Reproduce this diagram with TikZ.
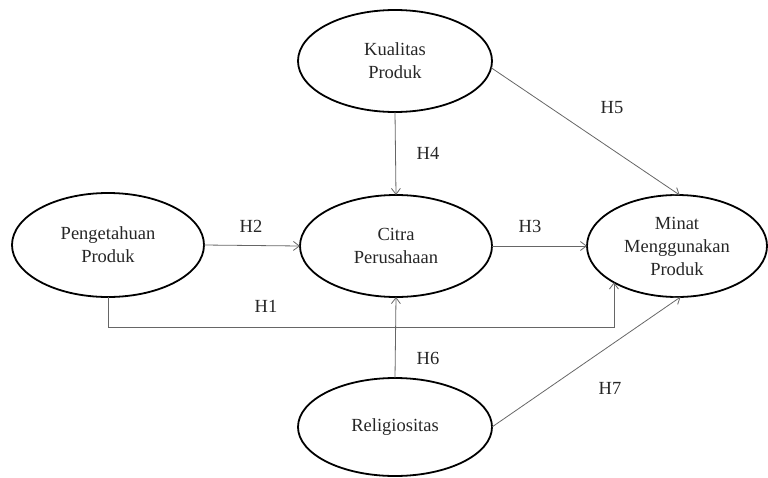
\documentclass[tikz,border=0pt]{standalone}
\usepackage{fontspec}
\setmainfont{Liberation Serif}
\usetikzlibrary{arrows.meta,shapes.geometric}
\begin{document}
\begin{tikzpicture}[x=1pt,y=-1pt,
  construct/.style={ellipse,draw=black,line width=1.8pt,inner sep=0pt,outer sep=0pt,
    align=center,font=\fontsize{18.5}{23}\selectfont,text=black!85},
  link/.style={draw=black!60,line width=0.8pt,-{Straight Barb[length=6pt,width=9pt]}},
  hyp/.style={font=\fontsize{18.5}{23}\selectfont,text=black!85}]
\useasboundingbox (0,0) rectangle (768,477);
\node[construct,minimum width=194pt,minimum height=102pt] (kual) at (395,61) {Kualitas\\Produk};
\node[construct,minimum width=192pt,minimum height=104pt] (peng) at (108,245) {Pengetahuan\\Produk};
\node[construct,minimum width=192pt,minimum height=102pt] (citra) at (396,246) {Citra\\Perusahaan};
\node[construct,minimum width=180pt,minimum height=102pt] (minat) at (677,246) {Minat\\Menggunakan\\Produk};
\node[construct,minimum width=194pt,minimum height=98pt] (relig) at (395,427) {Religiositas};
\draw[link] (peng.east) -- (citra.west);
\draw[link] (citra.east) -- (minat.west);
\draw[link] (kual.south) -- (citra.north);
\draw[link] (relig.north) -- (citra.south);
\draw[link] (kual.-4) -- (minat.87);
\draw[link] (relig.east) -- (minat.-86);
\draw[link] (peng.south) -- ++(0,30) -| (minat.210.8);
\node[hyp] (h1) at (266,306) {H1};
\node[hyp] (h2) at (251,226) {H2};
\node[hyp] (h3) at (530,226) {H3};
\node[hyp] (h4) at (428,153) {H4};
\node[hyp] (h5) at (612,108) {H5};
\node[hyp] (h6) at (428,358) {H6};
\node[hyp] (h7) at (610,388) {H7};
\end{tikzpicture}
\end{document}
